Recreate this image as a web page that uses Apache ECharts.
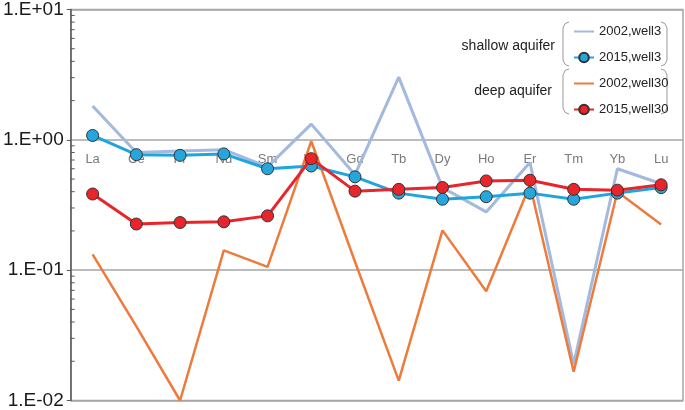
<!DOCTYPE html>
<html>
<head>
<meta charset="utf-8">
<script src="https://cdn.jsdelivr.net/npm/echarts@6/dist/echarts.min.js"></script>
<style>
  html, body { margin: 0; padding: 0; background: #fff; }
  #chart { width: 685px; height: 410px; }
</style>
</head>
<body>
<div id="chart"></div>
<script>
// 稀土元素（横轴）
var elements = ["La", "Ce", "Pr", "Nd", "Sm", "Eu", "Gd", "Tb", "Dy", "Ho", "Er", "Tm", "Yb", "Lu"];

// shallow aquifer
var well3_2002 = [1.82, 0.80, 0.82, 0.84, 0.62, 1.32, 0.54, 3.03, 0.43, 0.28, 0.67, 0.019, 0.60, 0.46];
var well3_2015 = [1.08, 0.77, 0.76, 0.78, 0.60, 0.63, 0.52, 0.39, 0.35, 0.366, 0.39, 0.35, 0.39, 0.43];

// deep aquifer
var well30_2002 = [0.132, 0.037, 0.0100, 0.142, 0.106, 0.976, 0.116, 0.0142, 0.202, 0.069, 0.45, 0.0166, 0.40, 0.224];
var well30_2015 = [0.384, 0.226, 0.232, 0.235, 0.261, 0.717, 0.404, 0.417, 0.431, 0.484, 0.49, 0.417, 0.411, 0.452];

// 对数轴的小刻度 (2..9 x 10^n)
var minorTicks = [];
[0.01, 0.1, 1].forEach(function (base) {
  for (var k = 2; k <= 9; k++) minorTicks.push([0, +(base * k).toPrecision(3)]);
});

function expLabel(v) {
  var e = Math.round(Math.log10(v));
  var s = e < 0 ? "-" : "+";
  var n = Math.abs(e);
  return "1.E" + s + (n < 10 ? "0" + n : n);
}

// 图例的圆括号
function bracket(x, y1, y2, dir) {
  var d = 6 * dir;
  return {
    type: "polyline",
    shape: { points: [[x + d, y1], [x + d * 0.35, y1 + 1.5], [x, y1 + 6], [x, y2 - 6], [x + d * 0.35, y2 - 1.5], [x + d, y2]] },
    style: { fill: null, stroke: "#999", lineWidth: 1 }
  };
}

var chart = echarts.init(document.getElementById("chart"));
chart.setOption({
  backgroundColor: "#fff",
  animation: false,
  grid: {
    left: 70,
    right: 2,
    top: 7,
    bottom: 8,
    show: true,
    borderColor: "#a6a6a6",
    borderWidth: 1.5
  },
  legend: {
    orient: "vertical",
    left: 568,
    top: 20,
    itemWidth: 20,
    itemHeight: 12,
    itemGap: 13,
    textStyle: { color: "#222", fontSize: 13, fontFamily: "Liberation Sans" },
    data: [
      { name: "2002,well3", itemStyle: { opacity: 0 } },
      "2015,well3",
      { name: "2002,well30", itemStyle: { opacity: 0 } },
      "2015,well30"
    ]
  },
  xAxis: {
    type: "category",
    data: elements,
    boundaryGap: true,
    position: "bottom",
    offset: -262,
    axisLine: { show: false },
    axisTick: { show: false },
    axisLabel: { color: "#7a7a7a", fontSize: 13, margin: 14, fontFamily: "Liberation Sans" },
    splitLine: { show: false }
  },
  yAxis: {
    type: "log",
    logBase: 10,
    min: 0.01,
    max: 10,
    axisLine: { show: true, lineStyle: { color: "#595959", width: 1.5 } },
    axisTick: { show: true, length: 4, lineStyle: { color: "#595959" } },
    axisLabel: {
      color: "#1a1a1a",
      fontSize: 19,
      margin: 7,
      fontFamily: "Liberation Sans",
      formatter: expLabel
    },
    splitLine: { show: true, lineStyle: { color: "#a6a6a6", width: 1.5 } }
  },
  graphic: [
    { type: "text", right: 130, top: 39, style: { text: "shallow aquifer", fill: "#222", fontSize: 14, fontFamily: "Liberation Sans" } },
    { type: "text", right: 133, top: 84, style: { text: "deep aquifer", fill: "#222", fontSize: 14, fontFamily: "Liberation Sans" } },
    bracket(563, 22, 66, 1),
    bracket(667, 22, 66, -1),
    bracket(563, 69, 114, 1),
    bracket(667, 69, 114, -1)
  ],
  series: [
    {
      name: "2002,well3",
      type: "line",
      data: well3_2002,
      symbol: "none",
      z: 2,
      lineStyle: { color: "#a3b9de", width: 3 },
      itemStyle: { color: "#a3b9de" }
    },
    {
      name: "2015,well3",
      type: "line",
      data: well3_2015,
      symbol: "circle",
      symbolSize: 12,
      z: 4,
      lineStyle: { color: "#1ea6dc", width: 3 },
      itemStyle: { color: "#27a6db", borderColor: "#333", borderWidth: 1 }
    },
    {
      name: "2002,well30",
      type: "line",
      data: well30_2002,
      symbol: "none",
      z: 3,
      lineStyle: { color: "#ec7b3c", width: 2.5 },
      itemStyle: { color: "#ec7b3c" }
    },
    {
      name: "2015,well30",
      type: "line",
      data: well30_2015,
      symbol: "circle",
      symbolSize: 12,
      z: 5,
      lineStyle: { color: "#e8252a", width: 3 },
      itemStyle: { color: "#e8252a", borderColor: "#333", borderWidth: 1 }
    },
    {
      // 对数小刻度
      type: "custom",
      data: minorTicks,
      silent: true,
      z: 6,
      renderItem: function (params, api) {
        var y = api.coord([0, api.value(1)])[1];
        var x = params.coordSys.x;
        return {
          type: "line",
          shape: { x1: x, y1: y, x2: x + 4, y2: y },
          style: { stroke: "#595959", lineWidth: 1 }
        };
      }
    }
  ]
});
</script>
</body>
</html>
